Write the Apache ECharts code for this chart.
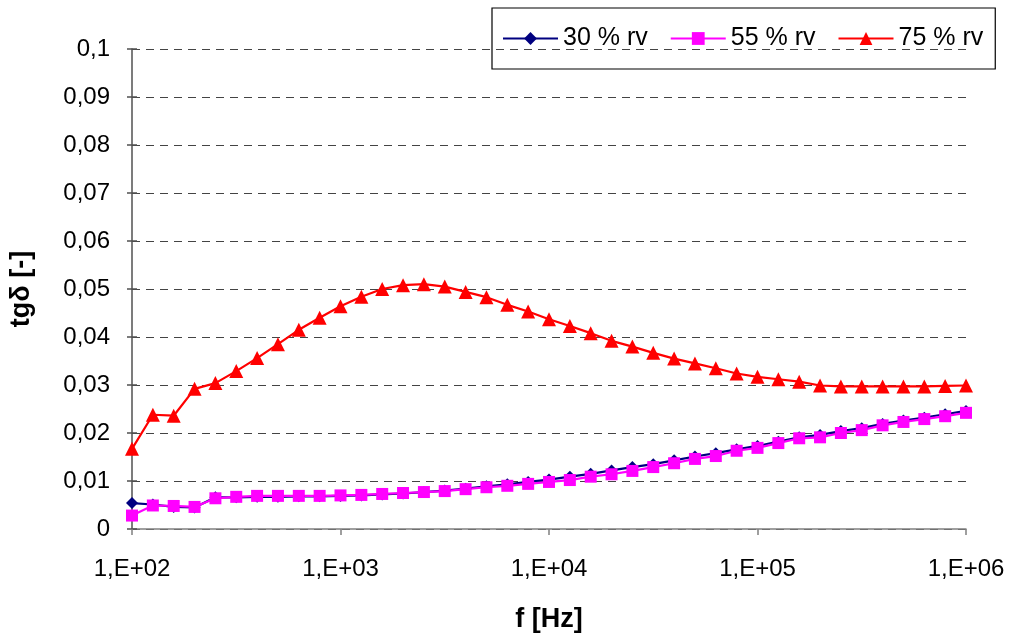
<!DOCTYPE html>
<html><head><meta charset="utf-8">
<script src="https://cdn.jsdelivr.net/npm/echarts@6/dist/echarts.min.js"></script>
<style>html,body{margin:0;padding:0;background:#fff}#c{width:1019px;height:639px}</style>
</head><body><div id="c"></div>
<script>
const freqs = [100,125.9,158.5,199.5,251.2,316.2,398.1,501.2,631,794.3,
  1000,1259,1585,1995,2512,3162,3981,5012,6310,7943,
  10000,12589,15849,19953,25119,31623,39811,50119,63096,79433,
  100000,125893,158489,199526,251189,316228,398107,501187,630957,794328,1000000];
const seriesNames = ['30 % rv','55 % rv','75 % rv'];
const rv30 = [0.0054,0.0051,0.0046,0.0045,0.0066,0.0066,0.0067,0.0067,0.0068,0.0068,
  0.0069,0.0070,0.0072,0.0074,0.0077,0.0080,0.0084,0.0089,0.0093,0.0098,
  0.0103,0.0109,0.0115,0.0122,0.0129,0.0135,0.0143,0.0151,0.0158,0.0166,
  0.0173,0.0182,0.0191,0.0196,0.0204,0.0210,0.0219,0.0226,0.0232,0.0239,0.0246];
const rv55 = [0.0028,0.0049,0.0048,0.0046,0.0064,0.0067,0.0069,0.0069,0.0069,0.0069,
  0.0070,0.0071,0.0073,0.0075,0.0077,0.0079,0.0083,0.0087,0.0090,0.0094,
  0.0098,0.0102,0.0109,0.0114,0.0121,0.0129,0.0137,0.0146,0.0152,0.0163,
  0.0169,0.0179,0.0189,0.0191,0.0200,0.0206,0.0216,0.0223,0.0229,0.0235,0.0242];
const rv75 = [0.0167,0.0238,0.0236,0.0292,0.0304,0.0329,0.0356,0.0385,0.0415,0.0440,
  0.0464,0.0484,0.0500,0.0508,0.0510,0.0505,0.0494,0.0483,0.0467,0.0453,
  0.0437,0.0423,0.0408,0.0392,0.0380,0.0367,0.0355,0.0345,0.0335,0.0324,
  0.0317,0.0312,0.0307,0.0299,0.0297,0.0297,0.0297,0.0297,0.0297,0.0298,0.0299];
const xTitle = 'f [Hz]';
const yTitle = 'tgδ [-]';

const font = 'Liberation Sans, Arial, sans-serif';
const pair = arr => freqs.map((f, i) => [f, arr[i]]);
const chart = echarts.init(document.getElementById('c'), null, {renderer: 'canvas'});
chart.setOption({
  animation: false,
  textStyle: {fontFamily: font},
  grid: {left: 132, right: 53, top: 49, bottom: 110, containLabel: false},
  legend: {
    left: 492, top: 8,
    orient: 'horizontal', itemWidth: 55, itemHeight: 16, itemGap: 22,
    padding: [16, 12, 16, 10],
    borderColor: '#000', borderWidth: 1.2,
    textStyle: {fontSize: 25, color: '#000', fontFamily: font, lineHeight: 29},
    data: seriesNames
  },
  xAxis: {
    type: 'log', logBase: 10, min: 100, max: 1000000,
    name: xTitle, nameLocation: 'middle', nameGap: 77,
    nameTextStyle: {fontSize: 27, fontWeight: 'bold', color: '#000', fontFamily: font},
    axisLine: {onZero: false, lineStyle: {color: '#808080', width: 1.5}},
    axisTick: {show: true, length: 6, lineStyle: {color: '#808080', width: 1.5}},
    minorTick: {show: false},
    splitLine: {show: false},
    axisLabel: {fontSize: 24, color: '#000', margin: 28, fontFamily: font,
      formatter: v => '1,E+0' + Math.round(Math.log10(v))}
  },
  yAxis: [{
    type: 'value', min: 0, max: 0.1, interval: 0.01,
    name: yTitle, nameLocation: 'middle', nameGap: 97, nameRotate: 90,
    nameTextStyle: {fontSize: 27, fontWeight: 'bold', color: '#000', fontFamily: font},
    axisLine: {show: true, lineStyle: {color: '#505050', width: 1.5}},
    axisTick: {show: true, length: 5, lineStyle: {color: '#505050', width: 1.5}},
    splitLine: {show: true, lineStyle: {color: '#444', type: [8, 6], width: 1.2}},
    axisLabel: {fontSize: 24, color: '#000', margin: 22, fontFamily: font,
      formatter: v => String(Math.round(v * 100) / 100).replace('.', ',')}
  }, {
    type: 'value', min: 0, max: 0.1, interval: 0.01, position: 'left',
    axisLine: {show: false},
    axisTick: {show: true, inside: true, length: 5, lineStyle: {color: '#505050', width: 1.5}},
    axisLabel: {show: false}, splitLine: {show: false}
  }],
  series: [
    {name: seriesNames[0], type: 'line', data: pair(rv30), symbol: 'diamond', symbolSize: 12,
      color: '#000080', lineStyle: {width: 2.2, color: '#000080'}, itemStyle: {color: '#000080'}},
    {name: seriesNames[1], type: 'line', data: pair(rv55), symbol: 'rect', symbolSize: 12,
      color: '#FF00FF', lineStyle: {width: 2.2, color: '#FF00FF'}, itemStyle: {color: '#FF00FF'}},
    {name: seriesNames[2], type: 'line', data: pair(rv75), symbol: 'triangle', symbolSize: 14,
      color: '#FF0000', lineStyle: {width: 2.2, color: '#FF0000'}, itemStyle: {color: '#FF0000'}}
  ]
});
</script></body></html>
